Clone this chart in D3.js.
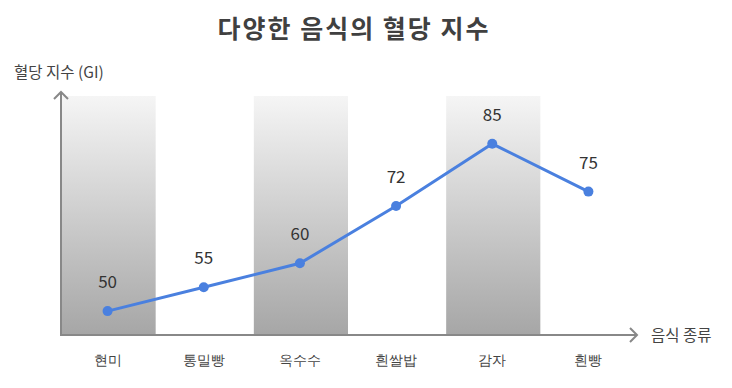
<!DOCTYPE html>
<html><head><meta charset="utf-8">
<script src="https://cdn.jsdelivr.net/npm/d3@7"></script>
<style>body{margin:0;background:#fff;}svg{display:block;font-family:"Noto Sans CJK KR","Noto Sans",sans-serif;}</style>
</head><body>
<svg id="c" width="732" height="388"></svg>
<script>
const categories = ["현미","통밀빵","옥수수","흰쌀밥","감자","흰빵"];
const giValues = [50,55,60,72,85,75];
const shadedIndex = [0,2,4];
const yDomain = [45,95];

const svg = d3.select("#c");
const x = d3.scaleBand().domain(categories).range([59.5,636.5]).padding(0);
const y = d3.scaleLinear().domain(yDomain).range([335,96]);
const y0 = y(yDomain[0]);

const defs = svg.append("defs");
const grad = defs.append("linearGradient").attr("id","g").attr("x1",0).attr("y1",0).attr("x2",0).attr("y2",1);
grad.append("stop").attr("offset","0%").attr("stop-color","#f5f5f5");
grad.append("stop").attr("offset","100%").attr("stop-color","#a6a6a6");

svg.selectAll("rect.band").data(shadedIndex).enter().append("rect")
  .attr("x",i=>x(categories[i])+2).attr("width",x.bandwidth()-2)
  .attr("y",y(yDomain[1])).attr("height",y0-y(yDomain[1]))
  .attr("fill","url(#g)");

// axes with arrowheads
const axisG = svg.append("g").attr("fill","none").attr("stroke","#888").attr("stroke-width",2);
axisG.append("path").attr("d",`M61,${y0} L61,92`);
axisG.append("path").attr("d",`M54,99 L61,92 L68,99`).attr("stroke-linejoin","miter");
axisG.append("path").attr("d",`M60,${y0} L637,${y0}`);
axisG.append("path").attr("d",`M630,${y0-7} L637,${y0} L630,${y0+7}`);

const xAxis = d3.axisBottom(x).tickSize(0).tickPadding(0);
const gx = svg.append("g").attr("transform",`translate(0,${y0+20})`).call(xAxis);
gx.select(".domain").remove();
gx.selectAll("text").attr("font-size",14).attr("fill","#444").attr("dy","0.71em").style("font-family","inherit");

const line = d3.line().x((d,i)=>x(categories[i])+x.bandwidth()/2).y(d=>y(d));
svg.append("path").datum(giValues).attr("d",line).attr("fill","none").attr("stroke","#4a80df").attr("stroke-width",3);
svg.selectAll("circle.p").data(giValues).enter().append("circle")
  .attr("cx",(d,i)=>x(categories[i])+x.bandwidth()/2).attr("cy",d=>y(d)).attr("r",5).attr("fill","#4a80df");
svg.selectAll("text.v").data(giValues).enter().append("text")
  .attr("x",(d,i)=>x(categories[i])+x.bandwidth()/2).attr("y",d=>y(d)-23)
  .attr("text-anchor","middle").attr("font-size",17).attr("fill","#333").text(d=>d);

svg.append("text").attr("x",354).attr("y",38).attr("text-anchor","middle").attr("font-size",25)
  .attr("font-weight","bold").attr("letter-spacing",2).attr("fill","#404040").text("다양한 음식의 혈당 지수");
svg.append("text").attr("x",14).attr("y",78).attr("font-size",15.5).attr("fill","#444").text("혈당 지수 (GI)");
svg.append("text").attr("x",651).attr("y",341).attr("font-size",15.5).attr("fill","#444").text("음식 종류");
</script>
</body></html>
